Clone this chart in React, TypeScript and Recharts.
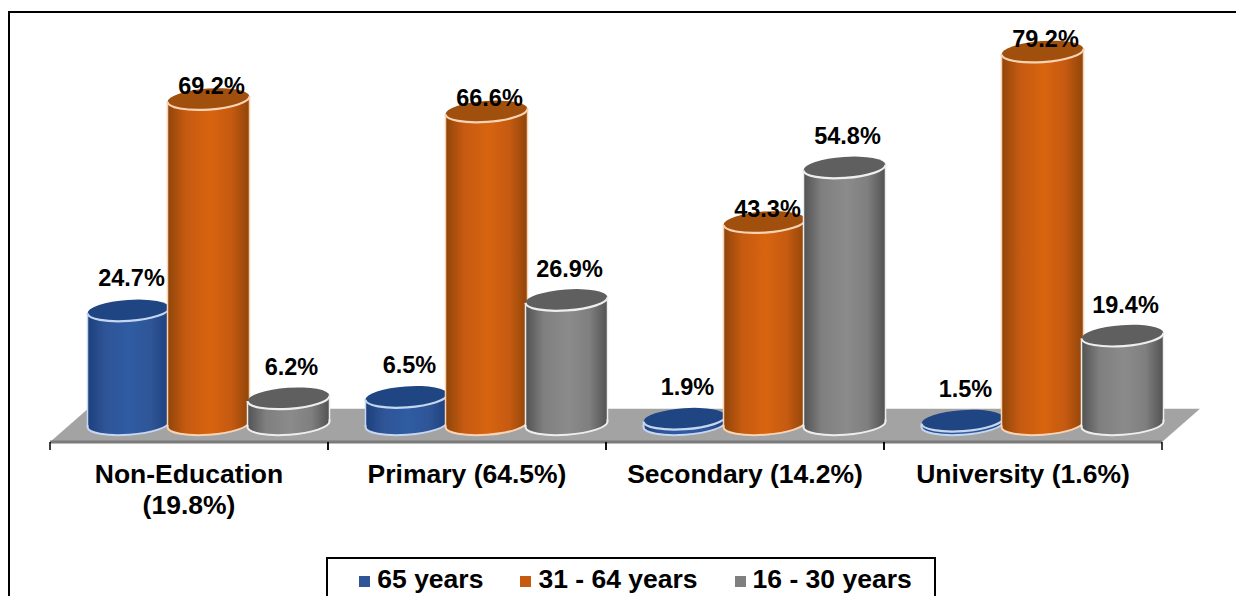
import React from "react";
import { BarChart, Bar, XAxis, YAxis, Legend, LabelList, ReferenceArea } from "recharts";

const categories = ["Non-Education\n(19.8%)", "Primary (64.5%)", "Secondary (14.2%)", "University (1.6%)"];
const seniors = [24.7, 6.5, 1.9, 1.5];
const middle = [69.2, 66.6, 43.3, 79.2];
const young = [6.2, 26.9, 54.8, 19.4];

const data = categories.map((name, i) => ({
  name,
  "65 years": seniors[i],
  "31 - 64 years": middle[i],
  "16 - 30 years": young[i],
}));

const W = 1236;
const H = 596;
const PLOT_LEFT = 50;
const PLOT_RIGHT = 1162;
const BAND = (PLOT_RIGHT - PLOT_LEFT) / categories.length;
const SHIFT = 20; // perspective shift of the columns on the floor
const FONT = "'Liberation Sans', Arial, sans-serif";

const palette = {
  blue: { flat: "#2f5597", edge: "#1d3f7c", mid: "#2f5ca3", top: "#1f4582", rim: "#c5d6f0" },
  orange: { flat: "#c55a11", edge: "#8f4509", mid: "#d8640f", top: "#a04f0c", rim: "#f8d3b4" },
  gray: { flat: "#7f7f7f", edge: "#525252", mid: "#8b8b8b", top: "#5f5f5f", rim: "#eeeeee" },
};

const makeCylinder = (key: keyof typeof palette) => (props: any) => {
  const { x, y, width, height } = props;
  const c = palette[key];
  const rx = 41;
  const ry = 10.5;
  const tilt = -4;
  const dy = rx * Math.sin((-tilt * Math.PI) / 180);
  const cx = x + width / 2 + SHIFT - 0.5;
  const topY = y;
  const baseY = y + height - 3.5;
  const l = cx - rx;
  const r = cx + rx;
  const body = `M${l} ${topY + dy} L${l} ${baseY + dy} A${rx} ${ry} ${tilt} 0 0 ${r} ${baseY - dy} L${r} ${topY - dy} A${rx} ${ry} ${tilt} 0 1 ${l} ${topY + dy} Z`;
  const frontTop = `M${l} ${topY + dy} A${rx} ${ry} ${tilt} 0 0 ${r} ${topY - dy}`;
  const frontBase = `M${l} ${Math.max(baseY + dy - 2, topY + dy)} L${l} ${baseY + dy} A${rx} ${ry} ${tilt} 0 0 ${r} ${baseY - dy} L${r} ${Math.max(baseY - dy - 2, topY - dy)}`;
  return (
    <g>
      <path d={body} fill={`url(#side-${key})`} />
      <path d={`M${l} ${topY + dy} L${l} ${baseY + dy}`} stroke={c.rim} strokeWidth={1.5} fill="none" />
      <path d={`M${r} ${topY - dy} L${r} ${baseY - dy}`} stroke={c.rim} strokeWidth={1.5} fill="none" />
      <path d={frontBase} stroke={c.rim} strokeWidth={2} fill="none" />
      <ellipse cx={cx} cy={topY} rx={rx} ry={ry} fill={c.top} transform={`rotate(${tilt} ${cx} ${topY})`} />
      <path d={frontTop} stroke={c.rim} strokeWidth={2.2} fill="none" />
    </g>
  );
};

const makeLabel = (dy: number) => (props: any) => {
  const { x, y, width, value } = props;
  return (
    <text
      x={x + width / 2 + SHIFT + 2.5}
      y={y + dy}
      textAnchor="middle"
      dominantBaseline="central"
      fontFamily={FONT}
      fontWeight="bold"
      fontSize={23.5}
      fill="#000"
    >
      {`${Number(value).toFixed(1)}%`}
    </text>
  );
};

const Floor = (props: any) => {
  const { x, y, width, height } = props;
  const depth = 38;
  return (
    <g>
      <polygon
        points={`${x},${y + height} ${x + width},${y + height} ${x + width + depth},${y} ${x + depth},${y}`}
        fill="#a3a3a3"
      />
      <line x1={x} x2={x + width} y1={y + height} y2={y + height} stroke="#7a7a7a" strokeWidth={3} />
    </g>
  );
};

const AxisTick = (props: any) => {
  const { x, y, payload } = props;
  const left = x - BAND / 2;
  const right = x + BAND / 2;
  const top = y - 8;
  const lines = String(payload.value).split("\n");
  return (
    <g>
      <line x1={left} x2={left} y1={top} y2={top + 8} stroke="#000" strokeWidth={1.5} />
      <line x1={right} x2={right} y1={top} y2={top + 8} stroke="#000" strokeWidth={1.5} />
      {lines.map((line, i) => (
        <text
          key={line}
          x={x}
          y={y + 33 + i * 31}
          textAnchor="middle"
          fontFamily={FONT}
          fontWeight="bold"
          fontSize={26.5}
          fill="#000"
        >
          {line}
        </text>
      ))}
    </g>
  );
};

const series = [
  { key: "65 years", tone: "blue" as const, labelDy: -32 },
  { key: "31 - 64 years", tone: "orange" as const, labelDy: -13 },
  { key: "16 - 30 years", tone: "gray" as const, labelDy: -31 },
];

const legendOrder = (item: any) => series.findIndex((s) => s.key === item.value);

export default function App() {
  return (
    <div style={{ position: "absolute", left: 0, top: 0, width: W, height: H, overflow: "hidden", background: "#fff" }}>
      <div
        style={{
          position: "absolute",
          left: 8,
          top: 11,
          right: -4,
          bottom: -4,
          borderTop: "2px solid #000",
          borderLeft: "2px solid #000",
        }}
      />
      <BarChart
        width={W}
        height={H}
        data={data}
        barSize={80}
        barGap={0}
        barCategoryGap={19}
        margin={{ top: 47.75, right: W - PLOT_RIGHT, bottom: 94, left: PLOT_LEFT }}
      >
        <defs>
          {(Object.keys(palette) as (keyof typeof palette)[]).map((k) => (
            <linearGradient key={k} id={`side-${k}`} x1="0" y1="0" x2="1" y2="0">
              <stop offset="0%" stopColor={palette[k].edge} />
              <stop offset="22%" stopColor={palette[k].flat} />
              <stop offset="52%" stopColor={palette[k].mid} />
              <stop offset="78%" stopColor={palette[k].flat} />
              <stop offset="100%" stopColor={palette[k].edge} />
            </linearGradient>
          ))}
        </defs>
        <XAxis dataKey="name" axisLine={false} tickLine={false} height={60} interval={0} tick={<AxisTick />} />
        <YAxis hide type="number" domain={[-3, 80]} />
        <ReferenceArea y1={-3} y2={4} shape={<Floor />} ifOverflow="visible" />
        {series.map((s) => (
          <Bar
            key={s.key}
            dataKey={s.key}
            fill={palette[s.tone].flat}
            isAnimationActive={false}
            shape={makeCylinder(s.tone)}
          >
            <LabelList dataKey={s.key} content={makeLabel(s.labelDy)} />
          </Bar>
        ))}
        <Legend
          layout="horizontal"
          verticalAlign="middle"
          align="center"
          iconType="square"
          iconSize={11}
          itemSorter={legendOrder}
          wrapperStyle={{
            left: 326,
            top: 557,
            width: 610,
            height: 50,
            boxSizing: "border-box",
            border: "2px solid #000",
            paddingTop: 2,
            paddingLeft: 19,
            background: "#fff",
          }}
          formatter={(value: string) => (
            <span
              style={{
                color: "#000",
                fontFamily: FONT,
                fontWeight: "bold",
                fontSize: 26.5,
                marginRight: value === series[series.length - 1].key ? 0 : 27,
                marginLeft: 3,
                position: "relative",
                top: 3,
              }}
            >
              {value}
            </span>
          )}
        />
      </BarChart>
    </div>
  );
}
